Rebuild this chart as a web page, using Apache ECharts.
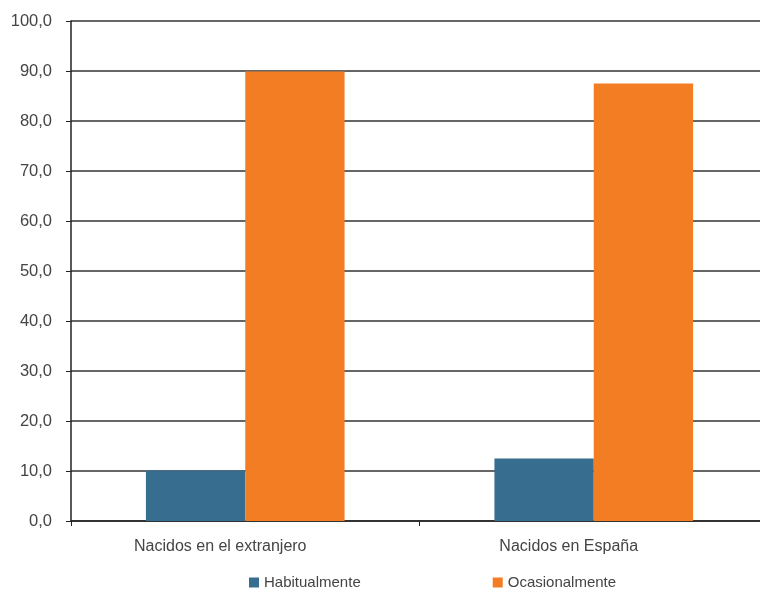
<!DOCTYPE html>
<html><head><meta charset="utf-8">
<script src="https://cdn.jsdelivr.net/npm/echarts@6/dist/echarts.min.js"></script>
<style>html,body{margin:0;padding:0;background:#fff;overflow:hidden}#c{width:768px;height:589px}</style>
</head><body><div id="c"></div>
<script>
var categories = ['Nacidos en el extranjero', 'Nacidos en España'];
var habitualmente = [10.1, 12.5];
var ocasionalmente = [89.9, 87.5];
var seriesNames = ['Habitualmente', 'Ocasionalmente'];
var FONT = '"Liberation Sans", Arial, sans-serif';
var chart = echarts.init(document.getElementById('c'));
chart.setOption({
  animation: false,
  textStyle: { fontFamily: FONT },
  grid: { left: 71, right: 0, top: 21, height: 500, containLabel: false },
  legend: {
    top: 570, left: 244, itemWidth: 10, itemHeight: 10, itemGap: 132, icon: 'rect',
    textStyle: { fontFamily: FONT, fontSize: 15, color: '#444' },
    data: seriesNames
  },
  xAxis: {
    type: 'category', data: categories,
    axisLine: { lineStyle: { color: '#222', width: 1.5 } },
    axisTick: { show: true, length: 5, lineStyle: { color: '#222' } },
    axisLabel: { fontFamily: FONT, fontSize: 16, color: '#444', margin: 18, padding: [0, 50, 0, 0] }
  },
  yAxis: {
    type: 'value', min: 0, max: 100, interval: 10,
    axisLine: { show: true, lineStyle: { color: '#222', width: 1.5 } },
    axisTick: { show: true, length: 5, lineStyle: { color: '#222' } },
    splitLine: { lineStyle: { color: '#333', width: 1.5 } },
    axisLabel: { fontFamily: FONT, fontSize: 16.5, color: '#444', margin: 19,
      formatter: function (v) { return v.toFixed(1).replace('.', ','); } }
  },
  series: [
    { name: seriesNames[0], type: 'bar', data: habitualmente, barWidth: '28.5%', barGap: '0%', itemStyle: { color: '#376d8e' } },
    { name: seriesNames[1], type: 'bar', data: ocasionalmente, barWidth: '28.5%', barGap: '0%', itemStyle: { color: '#f37d22' } }
  ]
});
</script></body></html>
